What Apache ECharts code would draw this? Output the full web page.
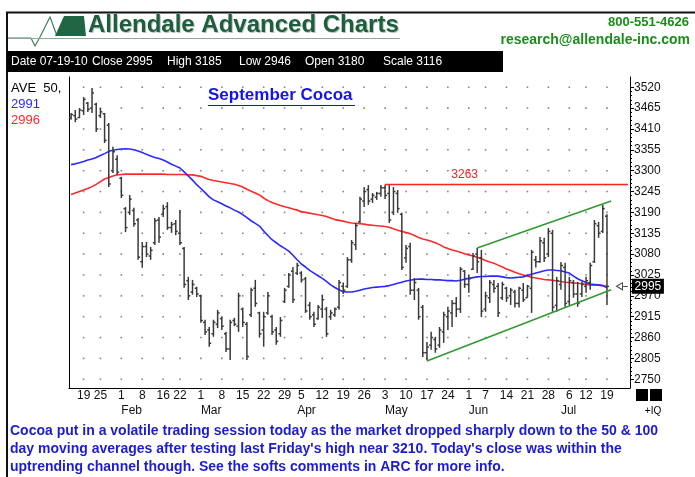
<!DOCTYPE html>
<html>
<head>
<meta charset="utf-8">
<title>September Cocoa</title>
<script src="https://cdn.jsdelivr.net/npm/echarts@6/dist/echarts.min.js"></script>
<style>
  html, body { margin: 0; padding: 0; background: #fff; }
  #main { width: 695px; height: 477px; }
</style>
</head>
<body>
<div id="main"></div>
<script>
// trading sessions shown on the chart, Jan 13 .. Jul 19 2010
var monthNames = ['Jan', 'Feb', 'Mar', 'Apr', 'May', 'Jun', 'Jul'];
var sessionDays = [
  [13, 14, 15, 19, 20, 21, 22, 25, 26, 27, 28, 29],
  [1, 2, 3, 4, 5, 8, 9, 10, 11, 12, 16, 17, 18, 19, 22, 23, 24, 25, 26],
  [1, 2, 3, 4, 5, 8, 9, 10, 11, 12, 15, 16, 17, 18, 19, 22, 23, 24, 25, 26, 29, 30, 31],
  [1, 5, 6, 7, 8, 9, 12, 13, 14, 15, 16, 19, 20, 21, 22, 23, 26, 27, 28, 29, 30],
  [3, 4, 5, 6, 7, 10, 11, 12, 13, 14, 17, 18, 19, 20, 21, 24, 25, 26, 27, 28],
  [1, 2, 3, 4, 7, 8, 9, 10, 11, 14, 15, 16, 17, 18, 21, 22, 23, 24, 25, 28, 29, 30],
  [1, 2, 6, 7, 8, 9, 12, 13, 14, 15, 16, 19]
];
// empty sessions kept at the right edge of the plot
var padDays = [20, 21, 22, 23, 26];

var opens = [
  3440, 3445, 3440, 3458, 3478, 3465, 3475, 3445, 3450, 3420,
  3300, 3330, 3280, 3200, 3190, 3195, 3170, 3060, 3100, 3075,
  3110, 3170, 3185, 3205, 3150, 3160, 3135, 3095, 3010, 2980,
  2990, 2970, 2900, 2880, 2870, 2895, 2910, 2870, 2830, 2905,
  2890, 2935, 2895, 2920, 2990, 2925, 2880, 2925, 2915, 2880,
  2870, 2955, 2995, 3035, 3030, 3030, 3015, 2945, 2920, 2910,
  2935, 2935, 2915, 2920, 2940, 2995, 2995, 3065, 3105, 3165,
  3220, 3250, 3225, 3230, 3240, 3255, 3240, 3190, 3240, 3185,
  3070, 3100, 2985, 2985, 2940, 2820, 2840, 2855, 2840, 2875,
  2915, 2925, 2950, 2935, 3035, 3000, 3040, 3080, 3070, 2935,
  2965, 3000, 2995, 2965, 2990, 2970, 2980, 2950, 2985, 2965,
  2990, 3065, 3060, 3110, 3080, 3135, 2945, 3000, 3045, 2955,
  3005, 2975, 2975, 2995, 3005, 3060, 3155, 3140, 3180
];
var highs = [
  3452, 3460, 3465, 3494, 3481, 3518, 3479, 3465, 3452, 3426,
  3363, 3341, 3284, 3204, 3236, 3202, 3175, 3112, 3112, 3099,
  3175, 3178, 3210, 3217, 3165, 3170, 3196, 3099, 3020, 3012,
  2994, 2973, 2907, 2888, 2907, 2933, 2914, 2875, 2907, 2912,
  2978, 2939, 2901, 2991, 3012, 2928, 2928, 2980, 2920, 2888,
  2914, 2991, 3030, 3046, 3057, 3035, 3020, 2954, 2928, 2946,
  2973, 2941, 2933, 2939, 3012, 3005, 3072, 3117, 3162, 3231,
  3257, 3262, 3241, 3244, 3262, 3263, 3262, 3257, 3249, 3189,
  3104, 3110, 3017, 2991, 2946, 2848, 2875, 2862, 2888, 2928,
  2941, 2959, 2967, 3046, 3038, 3025, 3083, 3096, 3091, 2981,
  3012, 3012, 3004, 3007, 2994, 2991, 2986, 2994, 3004, 2999,
  3091, 3075, 3125, 3123, 3149, 3144, 3020, 3059, 3057, 3020,
  3012, 3007, 3007, 3020, 3057, 3170, 3165, 3210, 3185
];
var lows = [
  3434, 3428, 3439, 3447, 3455, 3452, 3402, 3439, 3373, 3257,
  3294, 3289, 3228, 3138, 3183, 3152, 3065, 3044, 3072, 3065,
  3104, 3110, 3178, 3144, 3136, 3130, 3104, 2991, 2959, 2973,
  2967, 2899, 2867, 2836, 2862, 2885, 2880, 2822, 2801, 2890,
  2875, 2888, 2801, 2914, 2941, 2860, 2836, 2920, 2867, 2841,
  2862, 2951, 2991, 2951, 3025, 3005, 2925, 2907, 2888, 2907,
  2912, 2862, 2907, 2915, 2933, 2975, 2991, 3057, 3091, 3162,
  3204, 3210, 3215, 3223, 3231, 3225, 3162, 3183, 3189, 3038,
  3057, 2973, 2959, 2907, 2809, 2800, 2828, 2820, 2833, 2846,
  2880, 2888, 2914, 2925, 2991, 2978, 3038, 3030, 2914, 2928,
  2951, 2978, 2914, 2959, 2954, 2946, 2939, 2939, 2954, 2965,
  2925, 3045, 3057, 3059, 3072, 2928, 2928, 2986, 2941, 2946,
  2965, 2941, 2967, 2978, 2986, 3057, 3123, 3136, 2946
];
var closes = [
  3448, 3436, 3460, 3488, 3462, 3505, 3410, 3455, 3380, 3265,
  3350, 3296, 3235, 3150, 3225, 3160, 3072, 3100, 3080, 3090,
  3168, 3125, 3200, 3150, 3158, 3140, 3110, 3000, 2970, 3000,
  2975, 2905, 2875, 2845, 2900, 2925, 2890, 2830, 2900, 2895,
  2970, 2900, 2810, 2985, 2950, 2870, 2915, 2970, 2875, 2850,
  2905, 2985, 3025, 2960, 3050, 3012, 2930, 2915, 2895, 2940,
  2960, 2870, 2925, 2935, 3005, 2985, 3065, 3110, 3155, 3225,
  3245, 3220, 3235, 3240, 3255, 3235, 3170, 3245, 3200, 3045,
  3095, 2985, 3005, 2915, 2820, 2835, 2860, 2830, 2880, 2920,
  2930, 2950, 2935, 3040, 3000, 3015, 3075, 3060, 2930, 2970,
  3005, 2990, 2925, 3000, 2965, 2985, 2950, 2990, 2960, 2995,
  3085, 3060, 3115, 3070, 3140, 2940, 3010, 3050, 2950, 3010,
  2975, 2950, 3000, 3010, 3050, 3160, 3135, 3200, 2995
];
// 50 day average (blue)
var ma50 = [
  3316, 3318, 3321, 3324, 3328, 3331, 3335, 3340, 3345, 3351,
  3354, 3356, 3357, 3358, 3357, 3355, 3352, 3348, 3343, 3339,
  3335, 3332, 3328, 3323, 3317, 3312, 3307, 3297, 3286, 3275,
  3263, 3253, 3242, 3231, 3223, 3218, 3213, 3207, 3202, 3196,
  3191, 3184, 3176, 3168, 3161, 3154, 3141, 3129, 3118, 3110,
  3102, 3095, 3088, 3077, 3065, 3054, 3046, 3037, 3030, 3023,
  3016, 3008, 2999, 2992, 2986, 2981, 2980, 2980, 2982, 2985,
  2988, 2990, 2992, 2993, 2994, 2995, 2997, 3000, 3003, 3006,
  3009, 3011, 3013, 3014, 3014, 3013, 3013, 3012, 3012, 3011,
  3010, 3010, 3009, 3011, 3014, 3016, 3018, 3020, 3021, 3021,
  3022, 3022, 3022, 3020, 3018, 3017, 3018, 3019, 3020, 3024,
  3027, 3030, 3033, 3036, 3038, 3038, 3037, 3036, 3033, 3030,
  3022, 3015, 3010, 3005, 3001, 3000, 2999, 2997, 2991
];
// 100 day average (red)
var ma100 = [
  3237, 3241, 3245, 3249, 3253, 3258, 3264, 3271, 3278, 3282,
  3286, 3289, 3290, 3291, 3291, 3291, 3291, 3291, 3291, 3291,
  3291, 3291, 3291, 3290, 3290, 3290, 3290, 3290, 3289, 3289,
  3287, 3285, 3281, 3277, 3274, 3272, 3270, 3268, 3266, 3264,
  3261, 3257, 3251, 3246, 3241, 3236, 3228, 3221, 3216, 3212,
  3208, 3205, 3202, 3199, 3196, 3192, 3190, 3188, 3186, 3184,
  3182, 3179, 3175, 3171, 3169, 3167, 3164, 3162, 3161, 3160,
  3159, 3157, 3156, 3155, 3154, 3153, 3151, 3147, 3143, 3140,
  3137, 3134, 3129, 3124, 3120, 3117, 3114, 3110, 3105, 3099,
  3095, 3091, 3088, 3085, 3081, 3078, 3075, 3072, 3068, 3063,
  3059, 3056, 3051, 3046, 3041, 3037, 3032, 3028, 3025, 3022,
  3019, 3017, 3015, 3013, 3012, 3011, 3009, 3008, 3006, 3005,
  3004, 3003, 3002, 3000, 2999, 2998, 2998, 2997, 2996
];
var priceTicks = [2750, 2805, 2860, 2915, 2970, 3025, 3080, 3135, 3190, 3245, 3300, 3355, 3410, 3465, 3520];

// drawn studies
var resistance = { from: 'May 3', to: 'Jul 26', value: 3263, labelAt: 'May 28' };
var channelLow = [['May 17', 2798], ['Jul 20', 2986]];
var channelHigh = [['Jun 3', 3096], ['Jul 20', 3220]];

var comment = [
  'Cocoa put in a volatile trading session today as the market dropped sharply down to the 50 & 100',
  "day moving averages after testing last Friday's high near 3210. Today's close was within the",
  'uptrending channel though. See the softs comments in ARC for more info.'
];

// ---- build categories ----
var sessions = [];
sessionDays.forEach(function (days, m) {
  days.forEach(function (d) { sessions.push({ m: m, d: d }); });
});
var nBars = sessions.length;
padDays.forEach(function (d) { sessions.push({ m: 6, d: d }); });
var cats = sessions.map(function (s) { return monthNames[s.m] + ' ' + s.d; });
var dow = sessions.map(function (s) { return new Date(2010, s.m, s.d).getDay(); });

function isWeekStart(i) { return i > 0 && i < nBars && dow[i] < dow[i - 1]; }
function isMonthStart(i) { return i > 0 && i < nBars && sessions[i].m !== sessions[i - 1].m; }
function idx(name) { return cats.indexOf(name); }

var bars = [];
for (var i = 0; i < nBars; i++) bars.push([i, opens[i], highs[i], lows[i], closes[i]]);

var dots = [];
for (var k = 0; k < nBars; k++) {
  if (!isWeekStart(k)) continue;
  priceTicks.forEach(function (v) { dots.push([k, v]); });
}
var minorTicks = [];
priceTicks.forEach(function (v, j) {
  if (j === 0) return;
  for (var s = 1; s < 5; s++) minorTicks.push(priceTicks[j - 1] + s * 11);
});

var lastClose = closes[nBars - 1];
var lastIdx = nBars - 1;
var FONT = '"Liberation Sans", Arial, sans-serif';
var BAR_FONT = '12px ' + FONT;

var chart = echarts.init(document.getElementById('main'), null, { renderer: 'canvas' });

var option = {
  animation: false,
  backgroundColor: '#fff',
  grid: { left: 69, right: 65, top: 77, bottom: 89 },
  xAxis: [{
    type: 'category',
    data: cats,
    boundaryGap: true,
    axisLine: { lineStyle: { color: '#000', width: 1 } },
    axisTick: { show: false },
    splitLine: { show: false },
    axisLabel: {
      interval: function (i) { return isWeekStart(i); },
      formatter: function (v) { return v.split(' ')[1]; },
      margin: 2, fontSize: 12, color: '#111', fontFamily: FONT
    }
  }, {
    type: 'category',
    data: cats,
    position: 'bottom',
    boundaryGap: true,
    axisLine: { show: false },
    axisTick: { show: false },
    axisLabel: {
      interval: function (i) { return isMonthStart(i); },
      formatter: function (v) { return v.split(' ')[0]; },
      align: 'left', margin: 17, fontSize: 12, color: '#111', fontFamily: FONT
    }
  }],
  yAxis: [{
    type: 'value', position: 'right', min: 2727, max: 3547,
    axisLine: { show: true, lineStyle: { color: '#000', width: 1 } },
    axisTick: { show: true, customValues: priceTicks, length: 4, lineStyle: { color: '#000' } },
    axisLabel: { customValues: priceTicks, formatter: function (v) { return String(v); },
                 margin: 4, fontSize: 12, color: '#111', fontFamily: FONT },
    splitLine: { show: false }
  }, {
    type: 'value', position: 'right', min: 2727, max: 3547,
    axisLine: { show: false },
    axisTick: { show: true, customValues: minorTicks, length: 2, lineStyle: { color: '#000' } },
    axisLabel: { show: false },
    splitLine: { show: false }
  }, {
    type: 'value', position: 'left', min: 2727, max: 3547,
    axisLine: { show: true, lineStyle: { color: '#000', width: 1 } },
    axisTick: { show: false },
    axisLabel: { show: false },
    splitLine: { show: false }
  }],
  series: [{
    type: 'scatter',
    silent: true,
    data: dots,
    symbol: 'rect',
    symbolSize: 1.6,
    itemStyle: { color: '#666' },
    z: 1
  }, {
    name: 'ma100',
    type: 'line',
    data: ma100,
    showSymbol: false,
    silent: true,
    lineStyle: { color: '#ff2a2a', width: 1.6 },
    z: 2
  }, {
    name: 'ma50',
    type: 'line',
    data: ma50,
    showSymbol: false,
    silent: true,
    lineStyle: { color: '#2a2aff', width: 1.6 },
    z: 2
  }, {
    name: 'Sep Cocoa',
    type: 'custom',
    data: bars,
    encode: { x: 0, y: [1, 2, 3, 4] },
    z: 3,
    renderItem: function (params, api) {
      var x = api.value(0);
      var o = api.coord([x, api.value(1)]);
      var h = api.coord([x, api.value(2)]);
      var l = api.coord([x, api.value(3)]);
      var c = api.coord([x, api.value(4)]);
      var st = { stroke: '#3a3a3a', lineWidth: 1.5 };
      return {
        type: 'group',
        children: [
          { type: 'line', shape: { x1: h[0], y1: h[1], x2: l[0], y2: l[1] }, style: st },
          { type: 'line', shape: { x1: o[0] - 2, y1: o[1], x2: o[0], y2: o[1] }, style: st },
          { type: 'line', shape: { x1: c[0], y1: c[1], x2: c[0] + 2, y2: c[1] }, style: st }
        ]
      };
    },
    markLine: {
      silent: true,
      symbol: ['none', 'none'],
      label: { show: false },
      data: [
        [{ coord: [idx(resistance.from), resistance.value], lineStyle: { color: '#ff2020', width: 1.3, type: 'solid' } },
         { coord: [idx(resistance.to), resistance.value] }],
        [{ coord: [idx(channelLow[0][0]), channelLow[0][1]], lineStyle: { color: '#2f9a2f', width: 1.5, type: 'solid' } },
         { coord: [idx(channelLow[1][0]), channelLow[1][1]] }],
        [{ coord: [idx(channelHigh[0][0]), channelHigh[0][1]], lineStyle: { color: '#2f9a2f', width: 1.5, type: 'solid' } },
         { coord: [idx(channelHigh[1][0]), channelHigh[1][1]] }],
        [{ coord: [lastIdx + 3, lastClose], lineStyle: { color: '#555', width: 1, type: 'solid' } },
         { coord: [lastIdx + 5, lastClose] }]
      ]
    },
    markPoint: {
      silent: true,
      data: [{
        coord: [idx(resistance.labelAt), resistance.value],
        symbol: 'circle', symbolSize: 0,
        label: { show: true, position: 'top', distance: 4, formatter: String(resistance.value),
                 color: '#ff2020', fontSize: 12, fontFamily: FONT }
      }, {
        coord: [lastIdx + 3, lastClose],
        symbol: 'triangle', symbolSize: [7, 6], symbolRotate: 90,
        itemStyle: { color: '#fff', borderColor: '#444', borderWidth: 1 },
        label: { show: false }
      }, {
        coord: [lastIdx + 5, lastClose],
        symbol: 'rect', symbolSize: [32, 15], symbolOffset: [20, 0],
        itemStyle: { color: '#000' },
        label: { show: true, position: 'inside', formatter: String(lastClose),
                 color: '#fff', fontSize: 12, fontFamily: FONT }
      }]
    }
  }],
  graphic: [
    // outer frame
    { type: 'line', shape: { x1: 6, y1: 12.5, x2: 695, y2: 12.5 }, style: { stroke: '#111', lineWidth: 2 } },
    { type: 'line', shape: { x1: 7, y1: 12, x2: 7, y2: 477 }, style: { stroke: '#111', lineWidth: 2 } },
    // logo
    { type: 'polyline', shape: { points: [[8, 38], [31, 38], [35, 46], [40, 37], [50, 17], [57, 36]] },
      style: { stroke: '#3f7f5f', lineWidth: 1.2, fill: null } },
    { type: 'polygon', shape: { points: [[55, 36], [64, 16], [84, 16], [86, 36]] }, style: { fill: '#1f6645' } },
    { type: 'line', shape: { x1: 8, y1: 38.5, x2: 400, y2: 38.5 }, style: { stroke: '#8fa89a', lineWidth: 1 } },
    { type: 'text', x: 89, y: 26, style: { text: 'Allendale Advanced Charts', fill: '#b8c4bc',
      font: 'bold 24px ' + FONT, verticalAlign: 'middle' } },
    { type: 'text', x: 88, y: 25, style: { text: 'Allendale Advanced Charts', fill: '#1e5e3e',
      font: 'bold 24px ' + FONT, verticalAlign: 'middle' } },
    { type: 'text', x: 689, y: 22, style: { text: '800-551-4626', fill: '#1a8c1a',
      font: 'bold 13px ' + FONT, align: 'right', verticalAlign: 'middle' } },
    { type: 'text', x: 690, y: 40, style: { text: 'research@allendale-inc.com', fill: '#1a8c1a',
      font: 'bold 14px ' + FONT, align: 'right', verticalAlign: 'middle' } },
    // quote bar
    { type: 'rect', shape: { x: 7, y: 51, width: 496, height: 21 }, style: { fill: '#000' } },
    { type: 'text', x: 11, y: 62, style: { text: 'Date 07-19-10', fill: '#fff', font: BAR_FONT, verticalAlign: 'middle' } },
    { type: 'text', x: 92, y: 62, style: { text: 'Close ' + lastClose, fill: '#fff', font: BAR_FONT, verticalAlign: 'middle' } },
    { type: 'text', x: 167, y: 62, style: { text: 'High ' + highs[lastIdx], fill: '#fff', font: BAR_FONT, verticalAlign: 'middle' } },
    { type: 'text', x: 239, y: 62, style: { text: 'Low ' + lows[lastIdx], fill: '#fff', font: BAR_FONT, verticalAlign: 'middle' } },
    { type: 'text', x: 305, y: 62, style: { text: 'Open ' + opens[lastIdx], fill: '#fff', font: BAR_FONT, verticalAlign: 'middle' } },
    { type: 'text', x: 383, y: 62, style: { text: 'Scale 3116', fill: '#fff', font: BAR_FONT, verticalAlign: 'middle' } },
    // averages legend
    { type: 'text', x: 11, y: 88, style: { text: 'AVE  50,', fill: '#000', font: '13px ' + FONT, verticalAlign: 'middle' } },
    { type: 'text', x: 11, y: 104, style: { text: String(ma50[lastIdx]), fill: '#2a2aff', font: '13px ' + FONT, verticalAlign: 'middle' } },
    { type: 'text', x: 11, y: 120, style: { text: String(ma100[lastIdx]), fill: '#ff2a2a', font: '13px ' + FONT, verticalAlign: 'middle' } },
    // title
    { type: 'text', x: 208, y: 95, style: { text: 'September Cocoa', fill: '#1414e6', font: 'bold 17px ' + FONT, verticalAlign: 'middle' } },
    { type: 'line', shape: { x1: 208, y1: 105.5, x2: 355, y2: 105.5 }, style: { stroke: '#1414e6', lineWidth: 1 } },
    // corner boxes
    { type: 'rect', shape: { x: 636, y: 389, width: 12, height: 12 }, style: { fill: '#000' } },
    { type: 'rect', shape: { x: 650, y: 389, width: 12, height: 12 }, style: { fill: '#000' } },
    { type: 'text', x: 653, y: 411, style: { text: '+IQ', fill: '#000', font: '10px ' + FONT, align: 'center', verticalAlign: 'middle' } },
    // commentary
    { type: 'text', x: 10, y: 431, style: { text: comment[0], fill: '#1c1cd0', font: 'bold 14px ' + FONT, verticalAlign: 'middle' } },
    { type: 'text', x: 10, y: 449, style: { text: comment[1], fill: '#1c1cd0', font: 'bold 14px ' + FONT, verticalAlign: 'middle' } },
    { type: 'text', x: 10, y: 467, style: { text: comment[2], fill: '#1c1cd0', font: 'bold 14px ' + FONT, verticalAlign: 'middle' } }
  ]
};

chart.setOption(option);
</script>
</body>
</html>
